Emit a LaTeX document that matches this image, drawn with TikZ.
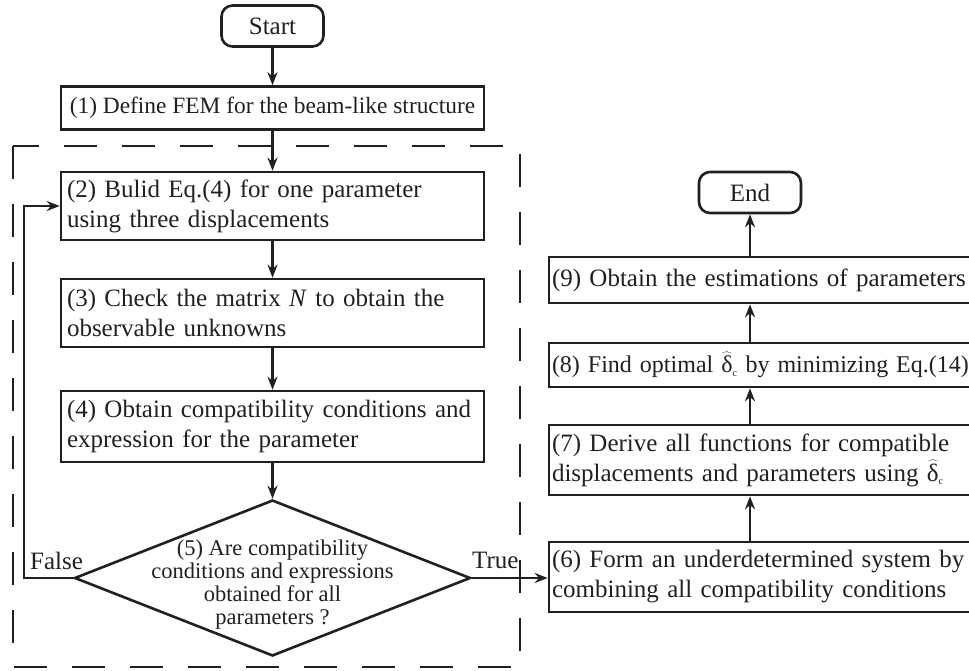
\documentclass[tikz,border=0pt]{standalone}
\usepackage{fontspec}
\setmainfont{Liberation Serif}
\usetikzlibrary{shapes.geometric,arrows.meta}
\definecolor{ink}{HTML}{231F20}
\newcommand{\dhat}{$\widehat{\mbox{δ}}_{\mbox{\fontsize{10}{10}\selectfont c}}$}
\begin{document}
\begin{tikzpicture}[x=1pt,y=-1pt,
  every node/.style={font=\fontsize{25}{30}\selectfont, text=ink},
  lbox/.style={draw=ink, line width=2.6pt, minimum width=423pt, text width=411pt, inner xsep=6pt, inner ysep=0pt, align=left},
  cbox/.style={draw=ink, line width=2.6pt, minimum width=423pt, inner xsep=2pt, inner ysep=0pt, align=center},
  rbox/.style={draw=ink, line width=2.6pt, minimum width=426pt, text width=420pt, inner xsep=3pt, inner ysep=0pt, align=left},
  term/.style={draw=ink, line width=2.6pt, rounded corners=11pt, minimum width=102pt, minimum height=41pt, inner sep=0pt},
  dec/.style={draw=ink, line width=2.6pt, diamond, minimum width=396pt, minimum height=156pt, inner sep=0pt},
  arr/.style={draw=ink, line width=2.4pt, -{Stealth[length=13pt,width=10pt]}},
  frame/.style={draw=ink, line width=2.6pt, dash pattern=on 33pt off 25pt},
  lab/.style={anchor=base west, inner sep=0pt}
]
\useasboundingbox (0,0) rectangle (969,670);
\draw[frame] (13,146) rectangle (520,667);

\node[term] (start) at (272.5,26) {Start};
\node[cbox, minimum height=43pt, font=\fontsize{23.4}{28}\selectfont] (b1) at (272.5,108) {(1) Define FEM for the beam-like structure};
\node[lbox, minimum height=68pt] (b2) at (272.5,206) {(2) Bulid Eq.(4) for one parameter\\using three displacements};
\node[lbox, minimum height=68pt] (b3) at (272.5,313) {(3) Check the matrix \textit{N} to obtain the\\observable unknowns};
\node[lbox, minimum height=71pt] (b4) at (272.5,426.5) {(4) Obtain compatibility conditions and\\expression for the parameter};
\node[dec] (d5) at (272.5,578) {};
\node[align=center, font=\fontsize{22.5}{23}\selectfont, inner sep=0pt, anchor=north] (t5) at (272.5,540) {(5) Are compatibility\\conditions and expressions\\obtained for all\\parameters ?};
\coordinate (fb) at (24,578);

\node[term] (en) at (750,192.5) {End};
\node[rbox, minimum height=46pt] (b9) at (762,280) {(9) Obtain the estimations of parameters};
\node[rbox, minimum height=44pt, font=\fontsize{24}{29}\selectfont] (b8) at (762,365) {\rlap{(8) Find optimal \dhat{} by minimizing Eq.(14)}};
\node[rbox, minimum height=70pt] (b7) at (762,460) {(7) Derive all functions for compatible\\displacements and parameters using \dhat};
\node[rbox, minimum height=70pt] (b6) at (762,577) {(6) Form an underdetermined system by\\combining all compatibility conditions};

\draw[arr] (start) -- (b1);
\draw[arr] (b1) -- (b2);
\draw[arr] (b2) -- (b3);
\draw[arr] (b3) -- (b4);
\draw[arr] (b4) -- (d5.north);
\draw[arr] (d5.west) -- (fb) |- (b2.west);
\draw[arr] (d5.east) -- (d5.east -| b6.west);
\draw[arr] (b6.north -| en.south) -- (b7.south -| en.south);
\draw[arr] (b7.north -| en.south) -- (b8.south -| en.south);
\draw[arr] (b8.north -| en.south) -- (b9.south -| en.south);
\draw[arr] (b9.north -| en.south) -- (en.south);

\node[lab] (fl) at (30,569) {False};
\node[lab] (tl) at (472,568) {True};
\end{tikzpicture}
\end{document}
